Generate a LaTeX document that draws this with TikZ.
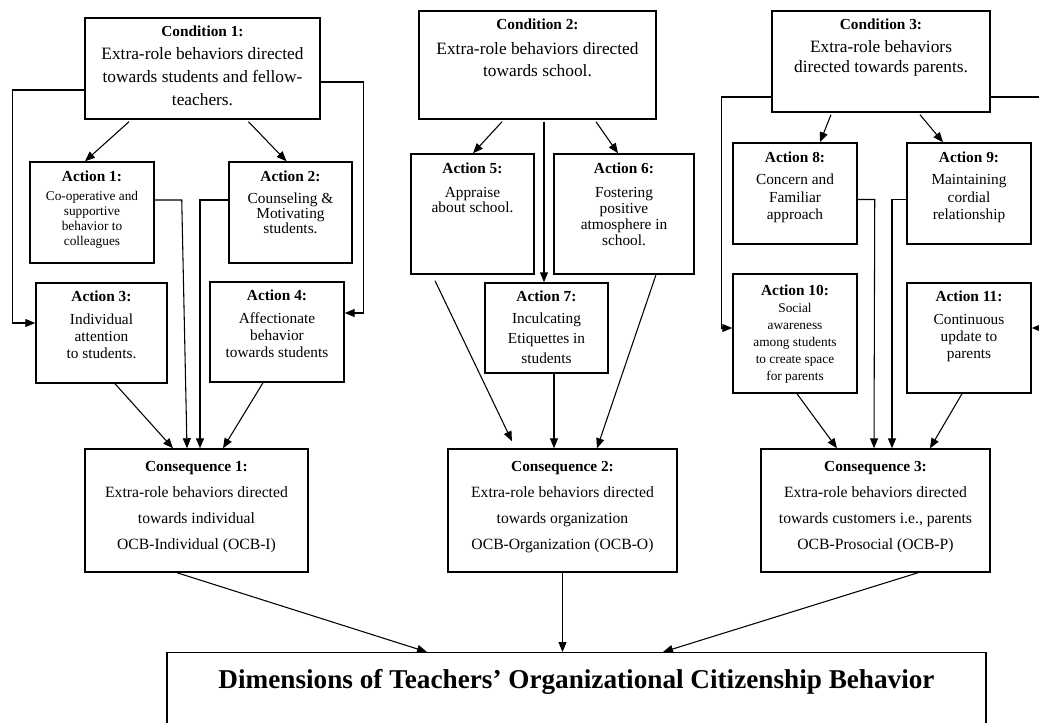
\documentclass[tikz,border=0pt]{standalone}
\usepackage{fontspec}
\setmainfont{Liberation Serif}
\usetikzlibrary{arrows.meta,calc}

\newcommand{\headfont}{\fontsize{11.5}{13}\selectfont\bfseries}
% width, height, top gap, title, body
\newcommand{\boxtxt}[5]{\parbox[c][#2][t]{#1}{\centering\vspace*{#3}{\headfont #4}\par #5}}

\begin{document}
\begin{tikzpicture}[x=0.75pt,y=0.75pt,yscale=-1,xscale=1,
    box/.style={draw, line width=1.1pt, inner sep=0pt},
    arr/.style={-{Triangle[length=7.5pt,width=6pt]}, line width=0.8pt}]
    \useasboundingbox (0,0) rectangle (1039,722);

    % Text Node
    \node[box, font=\fontsize{13}{17.25}\selectfont] (cond1) at (202.5,68.5) {\boxtxt{176.25pt}{75.75pt}{6pt}{Condition 1:}{Extra-role behaviors directed\\towards students and fellow-\\teachers.}};
    % Text Node
    \node[box, font=\fontsize{13}{16.5}\selectfont] (cond2) at (537.5,65) {\boxtxt{177.75pt}{81pt}{6pt}{Condition 2:}{\vspace{2pt}Extra-role behaviors directed\\towards school.}};
    % Text Node
    \node[box, font=\fontsize{13}{15}\selectfont] (cond3) at (881,61.5) {\boxtxt{163.5pt}{75.75pt}{6pt}{Condition 3:}{\vspace{2pt}Extra-role behaviors\\directed towards parents.}};

    % Text Node
    \node[box, font=\fontsize{10}{11.25}\selectfont] (act1) at (92,212.5) {\boxtxt{93pt}{75.75pt}{6.5pt}{Action 1:}{\vspace{3pt}Co-operative and\\supportive\\behavior to\\colleagues}};
    % Text Node
    \node[box, font=\fontsize{11.5}{11.5}\selectfont] (act2) at (290.5,212.5) {\boxtxt{92.25pt}{75.75pt}{6.5pt}{Action 2:}{\vspace{5pt}Counseling \&\\Motivating\\students.}};
    % Text Node
    \node[box, font=\fontsize{11.5}{13}\selectfont] (act3) at (101.5,333) {\boxtxt{98.25pt}{75pt}{6pt}{Action 3:}{\vspace{4pt}Individual\\attention\\to students.}};
    % Text Node
    \node[box, font=\fontsize{11.5}{13}\selectfont] (act4) at (277,332) {\boxtxt{100.5pt}{75pt}{6pt}{Action 4:}{\vspace{4pt}Affectionate\\behavior\\towards students}};
    % Text Node
    \node[box, font=\fontsize{11.5}{10}\selectfont] (act5) at (472.5,214) {\boxtxt{92.25pt}{90pt}{6.5pt}{Action 5:}{\vspace{8pt}Appraise\\about school.}};
    % Text Node
    \node[box, font=\fontsize{11.5}{12}\selectfont] (act6) at (624,214) {\boxtxt{105pt}{90pt}{6.5pt}{Action 6:}{\vspace{6pt}Fostering\\positive\\atmosphere in\\school.}};
    % Text Node
    \node[box, font=\fontsize{11.5}{15}\selectfont] (act7) at (546.5,328) {\boxtxt{92.25pt}{67.5pt}{6pt}{Action 7:}{\vspace{1.5pt}Inculcating\\Etiquettes in\\students}};
    % Text Node
    \node[box, font=\fontsize{11.5}{13}\selectfont] (act8) at (795,193.5) {\boxtxt{93pt}{75.75pt}{7pt}{Action 8:}{\vspace{3.5pt}Concern and\\Familiar\\approach}};
    % Text Node
    \node[box, font=\fontsize{11.5}{13}\selectfont] (act9) at (969,193.5) {\boxtxt{93pt}{75.75pt}{7pt}{Action 9:}{\vspace{3.5pt}Maintaining\\cordial\\relationship}};
    % Text Node
    \node[box, font=\fontsize{10}{12.75}\selectfont] (act10) at (795,333.5) {\boxtxt{93pt}{89.25pt}{8pt}{Action 10:}{Social\\awareness\\among students\\to create space\\for parents}};
    % Text Node
    \node[box, font=\fontsize{11.5}{12.75}\selectfont] (act11) at (969,338) {\boxtxt{93pt}{82.5pt}{6pt}{Action 11:}{\vspace{4.5pt}Continuous\\update to\\parents}};

    % Text Node
    \node[box, font=\fontsize{11.75}{19.5}\selectfont] (con1) at (196.5,510.5) {\boxtxt{167.25pt}{92.25pt}{9pt}{Consequence 1:}{Extra-role behaviors directed\\towards individual\\OCB-Individual (OCB-I)}};
    % Text Node
    \node[box, font=\fontsize{11.75}{19.5}\selectfont] (con2) at (562.5,510.5) {\boxtxt{171.75pt}{92.25pt}{9pt}{Consequence 2:}{Extra-role behaviors directed\\towards organization\\OCB-Organization (OCB-O)}};
    % Text Node
    \node[box, font=\fontsize{11.75}{19.5}\selectfont] (con3) at (875.5,510.5) {\boxtxt{171.75pt}{92.25pt}{9pt}{Consequence 3:}{Extra-role behaviors directed\\towards customers i.e., parents\\OCB-Prosocial (OCB-P)}};

    % Text Node
    \node[box, anchor=north, font=\fontsize{20.4}{24}\selectfont\bfseries, minimum width=614.25pt, text height=27pt, text depth=60pt] (dim) at (576.5,652) {Dimensions of Teachers' Organizational Citizenship Behavior};

    % Connection
    \draw[arr] ($(cond1.south)+(-73.5,2)$) -- ($(act1.north)+(-7,0)$);
    % Connection
    \draw[arr] ($(cond1.south)+(46,2)$) -- ($(act2.north)+(-4,0)$);
    % Connection
    \draw[arr] ($(cond1.west)+(0,21.5)$) -| ($(act3.west)+(-23,-10)$) -- ($(act3.west)+(0,-10)$);
    % Connection
    \draw[arr] ($(cond1.east)+(0,13.5)$) -| ($(act4.east)+(19,-19)$) -- ($(act4.east)+(0,-19)$);
    % Connection
    \draw[arr] ($(act1.east)+(0,-12.5)$) -- ++(27,0) -- ($(con1.north)+(-9.5,0)$);
    % Connection
    \draw[arr] ($(act2.west)+(0,-12.5)$) -| ($(con1.north)+(3.5,0)$);
    % Connection
    \draw[arr] ($(act3.south)+(13.5,0)$) -- ($(con1.north)+(-23.5,0)$);
    % Connection
    \draw[arr] ($(act4.south)+(-14,0)$) -- ($(con1.north)+(26.5,0)$);

    % Connection
    \draw[arr] ($(cond2.south)+(-35.5,2)$) -- ($(act5.north)+(0.5,0)$);
    % Connection
    \draw[arr] ($(cond2.south)+(58.5,2)$) -- ($(act6.north)+(-6,0)$);
    % Connection
    \draw[arr] ($(cond2.south)+(6.5,2)$) -- ($(act7.north)+(-2.5,0)$);
    % Connection
    \draw[arr] ($(act5.south)+(-37.5,6)$) -- ($(con2.north)+(-50.5,-7)$);
    % Connection
    \draw[arr] ($(act7.south)+(7.5,0)$) -- ($(con2.north)+(-8.5,0)$);
    % Connection
    \draw[arr] ($(act6.south)+(32,0)$) -- ($(con2.north)+(34.5,0)$);

    % Connection
    \draw[arr] ($(cond3.south)+(-50,2)$) -- ($(act8.north)+(25,0)$);
    % Connection
    \draw[arr] ($(cond3.south)+(39,2)$) -- ($(act9.north)+(-26,0)$);
    % Connection
    \draw[arr] ($(cond3.west)+(0,35.5)$) -| ($(act10.west)+(-11,-5.5)$) -- ($(act10.west)+(0,-5.5)$);
    % Connection
    \draw[arr] ($(cond3.east)+(0,35.5)$) -| ($(act11.east)+(12,-10)$) -- ($(act11.east)+(0,-10)$);
    % Connection
    \draw[arr] ($(act8.east)+(0,6)$) -- ++(17,0) -- ($(con3.north)+(-1.5,0)$);
    % Connection
    \draw[arr] ($(act9.west)+(0,6)$) -| ($(con3.north)+(16.5,0)$);
    % Connection
    \draw[arr] ($(act10.south)+(2,0)$) -- ($(con3.north)+(-38.5,0)$);
    % Connection
    \draw[arr] ($(act11.south)+(-7,0)$) -- ($(con3.north)+(54.5,0)$);

    % Connection
    \draw[arr] ($(con1.south)+(-19.5,0)$) -- ($(dim.north)+(-149.5,0)$);
    % Connection
    \draw[arr] (con2.south) -- (con2.south |- dim.north);
    % Connection
    \draw[arr] ($(con3.south)+(42.5,0)$) -- ($(dim.north)+(86.5,0)$);

\end{tikzpicture}
\end{document}
